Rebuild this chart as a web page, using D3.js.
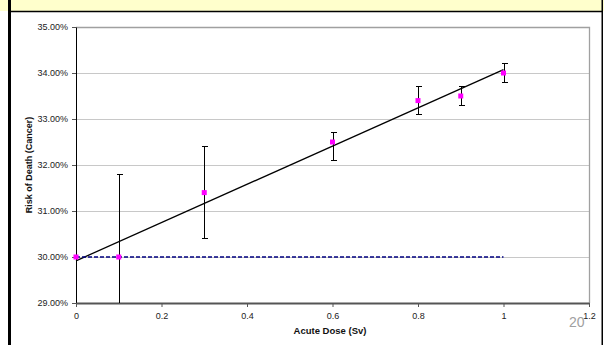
<!DOCTYPE html>
<html>
<head>
<meta charset="utf-8">
<script src="https://cdn.jsdelivr.net/npm/d3@7"></script>
<style>
  html, body { margin: 0; padding: 0; background: #fff; }
  svg { display: block; font-family: Arial, "Liberation Sans", sans-serif; }
</style>
</head>
<body>
<div id="chart"></div>
<script>
// measured points (dose in Sv, risk in %)
const doses = [0, 0.1, 0.3, 0.6, 0.8, 0.9, 1.0];
const risk = [30.0, 30.0, 31.4, 32.5, 33.4, 33.5, 34.0];
const errLow = [30.0, 28.2, 30.4, 32.1, 33.1, 33.3, 33.8];
const errHigh = [30.0, 31.8, 32.4, 32.7, 33.7, 33.7, 34.2];

// baseline risk (dashed)
const baseDose = [0, 1.0];
const baseRisk = [30.0, 30.0];

const xTicks = [0, 0.2, 0.4, 0.6, 0.8, 1.0, 1.2];
const yTicks = [29, 30, 31, 32, 33, 34, 35];

const W = 604, H = 345;
const plot = { left: 76, right: 589, top: 27, bottom: 303 };

const svg = d3.select('#chart').append('svg')
    .attr('width', W)
    .attr('height', H);

// slide frame: yellow band, black borders
svg.append('rect').attr('x', 0).attr('y', 0).attr('width', W).attr('height', 11).attr('fill', '#ffffcc');
svg.append('line').attr('x1', 8).attr('x2', 603).attr('y1', 11.5).attr('y2', 11.5).attr('stroke', '#000').attr('stroke-width', 1.5);
svg.append('rect').attr('x', 8).attr('y', 0).attr('width', 3).attr('height', H).attr('fill', '#000');
svg.append('rect').attr('x', 601.5).attr('y', 0).attr('width', 1.5).attr('height', H).attr('fill', '#000');

const x = d3.scaleLinear().domain([0, 1.2]).range([plot.left, plot.right]);
const y = d3.scaleLinear().domain([29, 35]).range([plot.bottom, plot.top]);

// gridlines
svg.append('g').selectAll('line')
    .data(yTicks.filter(d => d > 29 && d < 35))
    .enter().append('line')
    .attr('x1', plot.left).attr('x2', plot.right)
    .attr('y1', d => Math.round(y(d)) + 0.5).attr('y2', d => Math.round(y(d)) + 0.5)
    .attr('stroke', '#c8c8c8');

// plot border (top + right)
svg.append('path')
    .attr('d', `M${plot.left},${plot.top + 0.5}H${plot.right + 0.5}V${plot.bottom}`)
    .attr('fill', 'none')
    .attr('stroke', '#a0a0a0')
    .attr('stroke-width', 1.3);

// axes
const yAxis = d3.axisLeft(y).tickValues(yTicks).tickSize(4).tickSizeOuter(0).tickPadding(4)
    .tickFormat(d => d3.format('.2f')(d) + '%');
const gy = svg.append('g').attr('transform', `translate(${plot.left},0)`).call(yAxis);
gy.select('.domain').attr('stroke', '#000');
gy.selectAll('.tick line').attr('stroke', '#555');
gy.selectAll('text').attr('font-size', 9).attr('fill', '#222').style('font-family', 'Arial, "Liberation Sans", sans-serif');

const xAxis = d3.axisBottom(x).tickValues(xTicks).tickSize(4).tickSizeOuter(0).tickPadding(6)
    .tickFormat(d3.format(''));
const gx = svg.append('g').attr('transform', `translate(0,${plot.bottom})`).call(xAxis);
gx.select('.domain').attr('stroke', '#555').attr('stroke-width', 2);
gx.selectAll('.tick line').attr('stroke', '#555');
gx.selectAll('text').attr('font-size', 9).attr('fill', '#222').style('font-family', 'Arial, "Liberation Sans", sans-serif');

// linear trendline (least squares through the measured points)
const mx = d3.mean(doses), my = d3.mean(risk);
const slope = d3.sum(doses, (d, i) => (d - mx) * (risk[i] - my)) / d3.sum(doses, d => (d - mx) * (d - mx));
const icpt = my - slope * mx;
const xMax = d3.max(doses);
svg.append('line')
    .attr('x1', x(0)).attr('y1', y(icpt))
    .attr('x2', x(xMax)).attr('y2', y(icpt + slope * xMax))
    .attr('stroke', '#000').attr('stroke-width', 1.3);

// error bars (clipped to plot area)
const clampY = v => Math.max(29, Math.min(35, v));
const eb = svg.append('g').attr('stroke', '#000').attr('stroke-width', 1).attr('shape-rendering', 'crispEdges');
doses.forEach((d, i) => {
  if (errHigh[i] === errLow[i]) return;
  const cx = Math.round(x(d)) + 0.5;
  eb.append('line').attr('x1', cx).attr('x2', cx).attr('y1', y(clampY(errLow[i]))).attr('y2', y(errHigh[i]));
  eb.append('line').attr('x1', cx - 3).attr('x2', cx + 3).attr('y1', y(errHigh[i])).attr('y2', y(errHigh[i]));
  if (errLow[i] >= 29) {
    eb.append('line').attr('x1', cx - 3).attr('x2', cx + 3).attr('y1', y(errLow[i])).attr('y2', y(errLow[i]));
  }
});

// baseline dashed series
svg.append('line')
    .attr('x1', x(baseDose[0])).attr('y1', y(baseRisk[0]))
    .attr('x2', x(baseDose[1])).attr('y2', y(baseRisk[1]))
    .attr('stroke', '#000080').attr('stroke-width', 1.3).attr('stroke-dasharray', '4,2');

// markers
svg.append('g').selectAll('rect')
    .data(doses)
    .enter().append('rect')
    .attr('x', d => x(d) - 2.5)
    .attr('y', (d, i) => y(risk[i]) - 2.5)
    .attr('width', 5).attr('height', 5)
    .attr('fill', '#ff00ff');

// axis titles
svg.append('text')
    .attr('x', 330).attr('y', 334)
    .attr('text-anchor', 'middle')
    .attr('font-size', 9.5).attr('font-weight', 'bold').attr('fill', '#111')
    .text('Acute Dose (Sv)');

svg.append('text')
    .attr('transform', `translate(32,${(plot.top + plot.bottom) / 2}) rotate(-90)`)
    .attr('text-anchor', 'middle')
    .attr('font-size', 9).attr('font-weight', 'bold').attr('fill', '#111')
    .text('Risk of Death (Cancer)');

// slide number
svg.append('text')
    .attr('x', 569).attr('y', 327)
    .attr('font-size', 14).attr('fill', '#a0a0a0')
    .text('20');
</script>
</body>
</html>
